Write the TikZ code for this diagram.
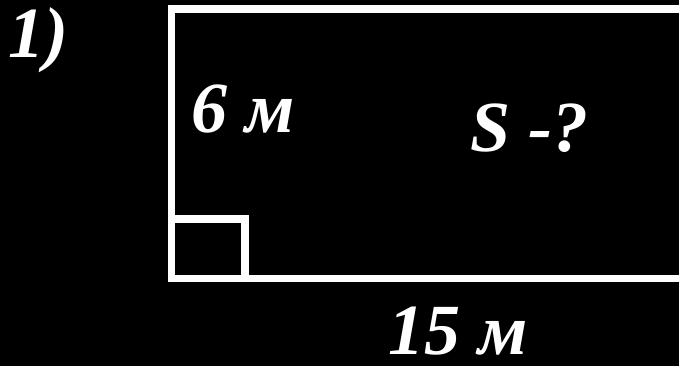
\documentclass[tikz,border=0pt]{standalone}
\usepackage{fontspec}
\setmainfont{Liberation Serif}
\begin{document}
\begin{tikzpicture}[x=1pt,y=1pt,
  lbl/.style={text=white,font=\fontsize{72}{72}\selectfont\bfseries\itshape,inner sep=0pt,anchor=base west},
  edge/.style={draw=white,line width=7.5pt}]
\fill[black] (0,0) rectangle (679,366);
\useasboundingbox (0,0) rectangle (679,366);
\begin{scope}
\clip (0,0) rectangle (679,366);
\coordinate (tl) at (171.5,357);
\coordinate (br) at (683,87.5);
\coordinate (sq) at (245,147);
\draw[edge] (tl) rectangle (br);
\draw[edge] (tl |- br) rectangle (sq);
\end{scope}
\node[lbl] (one) at (8,308) {1)};
\node[lbl] (h) at (191,233) {6 м};
\node[lbl] (s) at (470,214) {S -?};
\node[lbl] (w) at (388,11) {15 м};
\end{tikzpicture}
\end{document}
